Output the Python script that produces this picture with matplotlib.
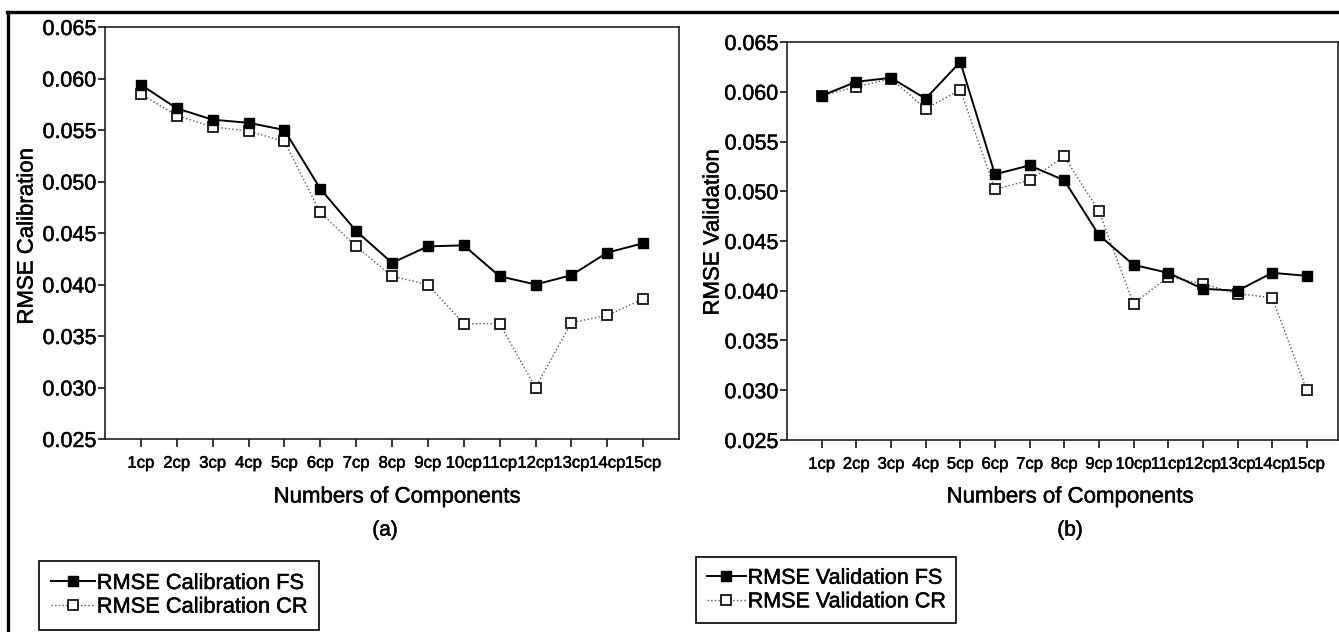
import matplotlib
matplotlib.use("Agg")
import matplotlib.pyplot as plt
from matplotlib.lines import Line2D
import matplotlib.patheffects as pe

plt.rcParams['font.family'] = ['Liberation Sans', 'DejaVu Sans']

categories = ['1cp', '2cp', '3cp', '4cp', '5cp', '6cp', '7cp', '8cp', '9cp',
              '10cp', '11cp', '12cp', '13cp', '14cp', '15cp']

cal_fs = [0.0594, 0.0571, 0.0560, 0.0557, 0.0550, 0.0493, 0.0452, 0.0421,
          0.0437, 0.0438, 0.0408, 0.0400, 0.0409, 0.0431, 0.0440]
cal_cr = [0.0585, 0.0564, 0.0553, 0.0549, 0.0539, 0.0470, 0.0437, 0.0408,
          0.0400, 0.0362, 0.0362, 0.0300, 0.0363, 0.0370, 0.0386]

val_fs = [0.0596, 0.0610, 0.0614, 0.0593, 0.0630, 0.0517, 0.0526, 0.0511,
          0.0456, 0.0426, 0.0418, 0.0402, 0.0400, 0.0418, 0.0415]
val_cr = [0.0596, 0.0605, 0.0613, 0.0583, 0.0602, 0.0502, 0.0511, 0.0535,
          0.0480, 0.0387, 0.0414, 0.0407, 0.0397, 0.0393, 0.0300]

yticks = [0.025, 0.030, 0.035, 0.040, 0.045, 0.050, 0.055, 0.060, 0.065]
ytick_labels = ['0.025', '0.030', '0.035', '0.040', '0.045', '0.050', '0.055', '0.060', '0.065']

W, H = 1339, 632
fig = plt.figure(figsize=(W / 100, H / 100), dpi=100)
fig.patch.set_facecolor('white')

heavy = [pe.withStroke(linewidth=0.35, foreground='black')]


def px_axes(x0, x1, ytop, ybot):
    return fig.add_axes([x0 / W, (H - ybot) / H, (x1 - x0) / W, (ybot - ytop) / H])


def fx(x):
    return x / W


def fy(y):
    return (H - y) / H


def style_axes(ax, xmax):
    ax.set_xlim(0, xmax)
    ax.set_ylim(0.025, 0.065)
    ax.set_yticks(yticks)
    ax.set_yticklabels(ytick_labels, fontsize=15.5)
    ax.set_xticks(range(1, len(categories) + 1))
    ax.set_xticklabels(categories, fontsize=12)
    ax.tick_params(axis='y', direction='out', length=5, width=1.1, pad=1)
    ax.tick_params(axis='x', direction='out', length=6, width=1.1, pad=6)
    for lab in ax.get_xticklabels() + ax.get_yticklabels():
        lab.set_path_effects(heavy)
    for s in ax.spines.values():
        s.set_linewidth(1.2)
        s.set_color('#222222')


xs = list(range(1, len(categories) + 1))

# Left panel (a)
axL = px_axes(105, 679, 27, 439)
style_axes(axL, 16)
axL.plot(xs, cal_cr, linestyle=':', color='#555555', linewidth=1.0,
         marker='s', markersize=6.5, markerfacecolor='white',
         markeredgecolor='black', markeredgewidth=1.2, zorder=3)
axL.plot(xs, cal_fs, linestyle='-', color='black', linewidth=1.4,
         marker='s', markersize=6.5, markerfacecolor='black',
         markeredgecolor='black', zorder=4)

# Right panel (b)
axR = px_axes(787, 1338, 42, 440)
style_axes(axR, 15.9)
axR.plot(xs, val_cr, linestyle=':', color='#555555', linewidth=1.0,
         marker='s', markersize=6.5, markerfacecolor='white',
         markeredgecolor='black', markeredgewidth=1.2, zorder=3)
axR.plot(xs, val_fs, linestyle='-', color='black', linewidth=1.4,
         marker='s', markersize=6.5, markerfacecolor='black',
         markeredgecolor='black', zorder=4)

# Axis labels as figure text
texts = [
    fig.text(fx(27), fy(236), 'RMSE Calibration', rotation=90, ha='center', va='center', fontsize=16),
    fig.text(fx(713), fy(232), 'RMSE Validation', rotation=90, ha='center', va='center', fontsize=16),
    fig.text(fx(397), fy(497), 'Numbers of Components', ha='center', va='center', fontsize=16),
    fig.text(fx(1070), fy(497), 'Numbers of Components', ha='center', va='center', fontsize=16),
    fig.text(fx(385), fy(530), '(a)', ha='center', va='center', fontsize=15),
    fig.text(fx(1070), fy(530), '(b)', ha='center', va='center', fontsize=15),
]
for t in texts:
    t.set_path_effects(heavy)

# Legends
fs_handle = Line2D([], [], linestyle='-', color='black', linewidth=1.4, marker='s',
                   markersize=6.5, markerfacecolor='black', markeredgecolor='black')
cr_handle = Line2D([], [], linestyle=':', color='#555555', linewidth=1.0, marker='s',
                   markersize=6.5, markerfacecolor='white', markeredgecolor='black',
                   markeredgewidth=1.2)

legL = fig.legend([fs_handle, cr_handle], ['RMSE Calibration FS', 'RMSE Calibration CR'],
                  loc='upper left', bbox_to_anchor=(fx(39), fy(561)), fontsize=15.7,
                  frameon=True, fancybox=False, edgecolor='black', framealpha=1,
                  handlelength=2.0, handletextpad=0.1, borderpad=0.55, labelspacing=0.12,
                  borderaxespad=0)
legL.get_frame().set_linewidth(1.2)
legR = fig.legend([fs_handle, cr_handle], ['RMSE Validation FS', 'RMSE Validation CR'],
                  loc='upper left', bbox_to_anchor=(fx(696), fy(557)), fontsize=15.5,
                  frameon=True, fancybox=False, edgecolor='black', framealpha=1,
                  handlelength=1.8, handletextpad=0.1, borderpad=0.5, labelspacing=0.12,
                  borderaxespad=0)
legR.get_frame().set_linewidth(1.2)
for leg in (legL, legR):
    for t in leg.get_texts():
        t.set_path_effects(heavy)

# Outer frame lines (top and left)
fig.add_artist(Line2D([fx(7), 1.0], [fy(11.5), fy(11.5)], color='black', linewidth=2.4,
                      transform=fig.transFigure))
fig.add_artist(Line2D([fx(8), fx(8)], [fy(11.5), 0.0], color='black', linewidth=2.4,
                      transform=fig.transFigure))

fig.savefig('out.png', dpi=100, facecolor='white')
